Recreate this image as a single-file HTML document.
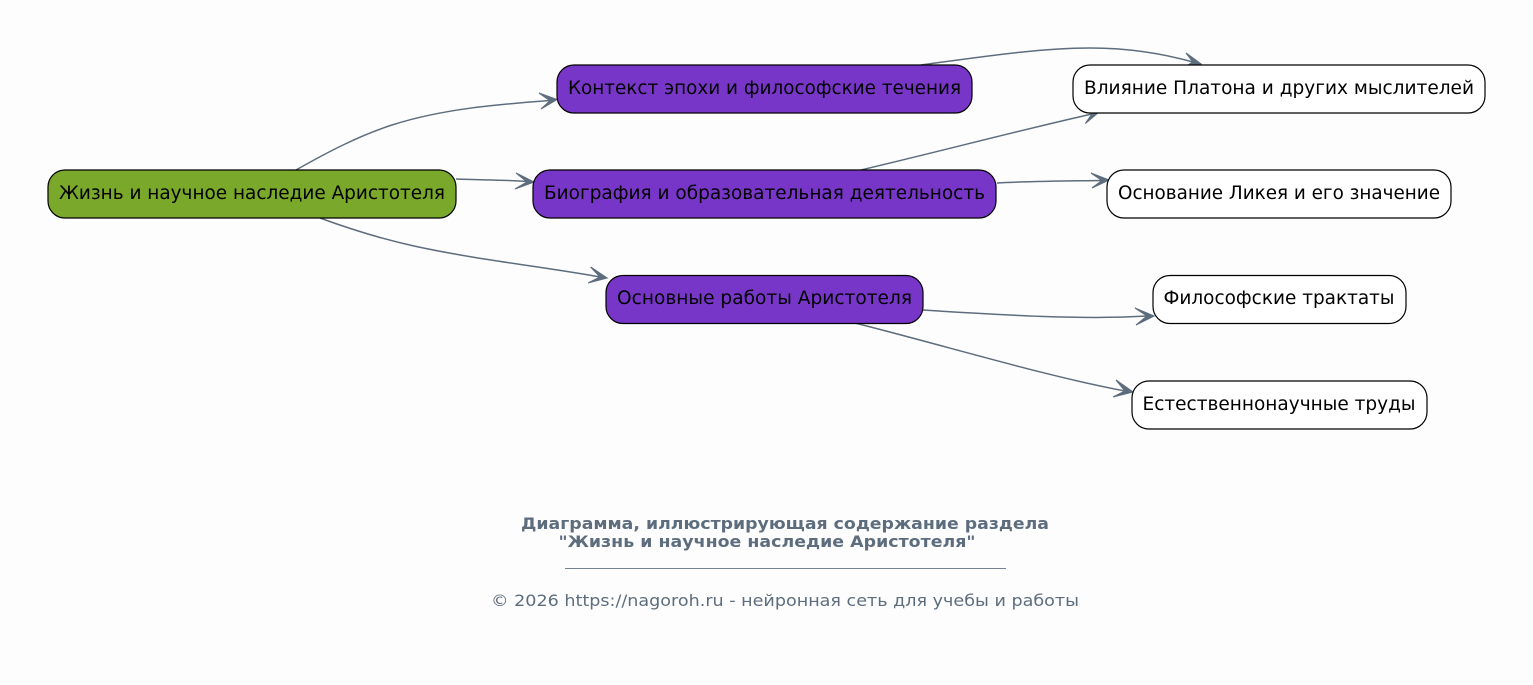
<!DOCTYPE html>
<html>
<head>
<meta charset="utf-8">
<style>
html,body{margin:0;padding:0;background:#fdfdfd;width:1533px;height:685px;overflow:hidden}
svg{display:block}
text{font-family:"DejaVu Sans","Liberation Sans",sans-serif}
.n{font-size:18.67px;fill:#000;text-anchor:middle}
.e{fill:none;stroke:#5d6d7e;stroke-width:1.5}
.a{fill:#5d6d7e;stroke:#5d6d7e;stroke-width:1.1;stroke-linejoin:miter}
.b{stroke:#000;stroke-width:1.2}
.t{font-size:16px;font-weight:bold;fill:#5d6d7e;text-anchor:middle}
.f{font-size:16px;fill:#5d6d7e;text-anchor:middle}
</style>
</head>
<body>
<svg width="1533" height="685" viewBox="0 0 1533 685" xmlns="http://www.w3.org/2000/svg">
<rect width="1533" height="685" fill="#fdfdfd"/>

<path class="e" d="M296,170 C326,153 358,136 392,125 C445,108 504,104 550,100.500"/>
<polygon class="a" points="557,99.500 539,93 550,100.700 541,109"/>
<path class="e" d="M456,179 C483,180 509,180 527,181.500"/>
<polygon class="a" points="534,182 516,173 527,182 515,189"/>
<path class="e" d="M320,218 C350,229 382,239 414,246 C478,260 545,267 600,277"/>
<polygon class="a" points="607,278 590.600,267 600,277 588,283"/>
<path class="e" d="M921,65 C980,57 1040,48 1090,48 C1135,48 1168,55 1193,62"/>
<polygon class="a" points="1201,64 1186,53 1193,62 1183,68"/>
<path class="e" d="M861,170 C945,150 1025,129 1092,114"/>
<polygon class="a" points="1099,112 1081.700,108 1092,114 1085.400,123.500"/>
<path class="e" d="M997,183 C1035,181 1072,181 1102,180.500"/>
<polygon class="a" points="1109,180 1091,173 1102,180.500 1092,188"/>
<path class="e" d="M923,310 C1000,315 1085,320 1147,316"/>
<polygon class="a" points="1154,316 1135,308 1147,316 1136,325"/>
<path class="e" d="M855,323 C950,347 1045,376 1125,391"/>
<polygon class="a" points="1133,392 1116,380 1125,391 1113,397"/>

<rect class="b" x="48" y="170" width="408" height="48" rx="17" ry="17" fill="#79a82a"/>
<text class="n" x="252" y="199" textLength="386" lengthAdjust="spacingAndGlyphs">Жизнь и научное наследие Аристотеля</text>

<rect class="b" x="557" y="65" width="415" height="48" rx="17" ry="17" fill="#7836c8"/>
<text class="n" x="764.500" y="94" textLength="393" lengthAdjust="spacingAndGlyphs">Контекст эпохи и философские течения</text>

<rect class="b" x="533" y="170" width="463" height="48" rx="17" ry="17" fill="#7836c8"/>
<text class="n" x="764.500" y="199" textLength="441" lengthAdjust="spacingAndGlyphs">Биография и образовательная деятельность</text>

<rect class="b" x="606" y="275.500" width="317" height="48" rx="17" ry="17" fill="#7836c8"/>
<text class="n" x="764.500" y="304" textLength="295" lengthAdjust="spacingAndGlyphs">Основные работы Аристотеля</text>

<rect class="b" x="1073" y="65" width="412" height="48" rx="17" ry="17" fill="#fff"/>
<text class="n" x="1279" y="94" textLength="390" lengthAdjust="spacingAndGlyphs">Влияние Платона и других мыслителей</text>

<rect class="b" x="1107" y="170" width="344" height="48" rx="17" ry="17" fill="#fff"/>
<text class="n" x="1279" y="199" textLength="322" lengthAdjust="spacingAndGlyphs">Основание Ликея и его значение</text>

<rect class="b" x="1153" y="275.500" width="253" height="48" rx="17" ry="17" fill="#fff"/>
<text class="n" x="1279" y="304" textLength="231" lengthAdjust="spacingAndGlyphs">Философские трактаты</text>

<rect class="b" x="1132" y="381" width="295" height="48" rx="17" ry="17" fill="#fff"/>
<text class="n" x="1279" y="410" textLength="273" lengthAdjust="spacingAndGlyphs">Естественнонаучные труды</text>

<text class="t" x="785" y="529" textLength="528" lengthAdjust="spacingAndGlyphs">Диаграмма, иллюстрирующая содержание раздела</text>
<text class="t" x="767" y="547" textLength="417" lengthAdjust="spacingAndGlyphs">"Жизнь и научное наследие Аристотеля"</text>
<rect x="565" y="568" width="441" height="1" fill="#5d6d7e" opacity=".85"/>
<text class="f" x="785" y="606" textLength="588" lengthAdjust="spacingAndGlyphs">© 2026 https://nagoroh.ru - нейронная сеть для учебы и работы</text>
</svg>
</body>
</html>
